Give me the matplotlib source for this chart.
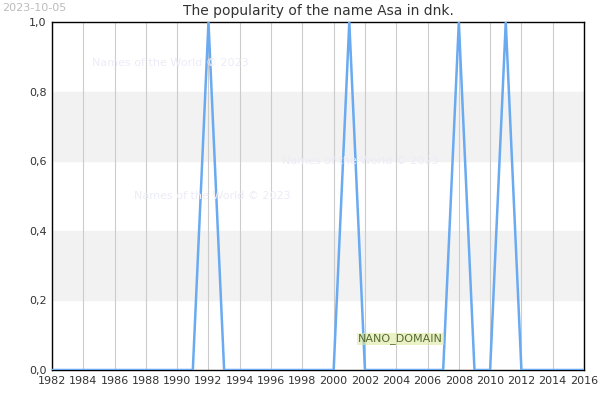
import matplotlib
matplotlib.use("Agg")
import matplotlib.pyplot as plt

years = list(range(1982, 2017))
peak_years = [1992, 2001, 2008, 2011]
values = [1.0 if y in peak_years else 0.0 for y in years]
yticks = [0.0, 0.2, 0.4, 0.6, 0.8, 1.0]
xticks = list(range(1982, 2017, 2))

fig = plt.figure(figsize=(6, 4), dpi=100)
ax = fig.add_axes([52/600, 30/400, 532/600, 348/400])
for lo in (0.2, 0.6):
    ax.axhspan(lo, lo + 0.2, color='#f2f2f2', zorder=0)
for x in xticks:
    ax.axvline(x, color='#cccccc', lw=0.8, zorder=1)
ax.plot(years, values, color='#6aaaf0', lw=1.8, zorder=3)
ax.set_xlim(1982, 2016)
ax.set_ylim(0, 1)
ax.set_xticks(xticks)
ax.set_yticks(yticks)
ax.set_yticklabels([f"{v:.1f}".replace('.', ',') for v in yticks])
ax.tick_params(length=0, labelsize=8, colors='#333333', pad=4)
for s in ax.spines.values():
    s.set_color('black'); s.set_linewidth(1)
ax.set_title("The popularity of the name Asa in dnk.", fontsize=10, color='#333333', pad=5)
fig.text(2/600, 1 - 8/400, "2023-10-05", fontsize=8, color='#bbbbbb', va='center')
for (x, y) in [(92, 63), (282, 161), (134, 196)]:
    fig.text(x/600, 1 - y/400, "Names of the World © 2023", fontsize=8, color='#ececf8', va='center')
fig.text(358/600, 1 - 339/400, "NANO_DOMAIN", fontsize=8, color='#556b2f', va='center',
         bbox=dict(facecolor='#dde8a0', edgecolor='none', pad=0.5, alpha=0.6))
fig.savefig("out.png")
